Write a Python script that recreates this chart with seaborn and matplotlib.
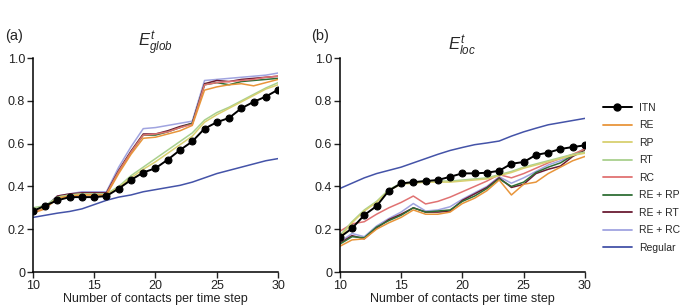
import matplotlib.pyplot as plt
import pandas as pd
import seaborn as sns
from matplotlib.lines import Line2D

contacts = list(range(10, 31))

# panel (a): global efficiency
glob_itn = [0.285, 0.31, 0.335, 0.35, 0.35, 0.35, 0.355, 0.39, 0.43, 0.465, 0.485,
            0.525, 0.57, 0.61, 0.67, 0.70, 0.72, 0.765, 0.795, 0.82, 0.852]
glob_re = [0.275, 0.295, 0.345, 0.355, 0.36, 0.36, 0.36, 0.46, 0.55, 0.625, 0.63,
           0.645, 0.66, 0.685, 0.85, 0.865, 0.875, 0.88, 0.87, 0.885, 0.90]
glob_rp = [0.29, 0.30, 0.345, 0.355, 0.36, 0.36, 0.36, 0.395, 0.44, 0.48, 0.515,
           0.555, 0.595, 0.635, 0.70, 0.735, 0.765, 0.795, 0.825, 0.855, 0.875]
glob_rt = [0.30, 0.31, 0.35, 0.36, 0.365, 0.365, 0.365, 0.40, 0.45, 0.49, 0.53,
           0.57, 0.61, 0.65, 0.71, 0.745, 0.77, 0.80, 0.83, 0.86, 0.885]
glob_rc = [0.28, 0.30, 0.35, 0.36, 0.365, 0.365, 0.365, 0.47, 0.56, 0.64, 0.645,
           0.655, 0.675, 0.69, 0.875, 0.885, 0.89, 0.895, 0.90, 0.91, 0.915]
glob_re_rp = [0.28, 0.30, 0.35, 0.36, 0.365, 0.365, 0.365, 0.47, 0.56, 0.64, 0.64,
              0.655, 0.675, 0.695, 0.875, 0.885, 0.875, 0.89, 0.895, 0.90, 0.905]
glob_re_rt = [0.28, 0.30, 0.355, 0.365, 0.37, 0.37, 0.37, 0.475, 0.565, 0.645, 0.645,
              0.66, 0.68, 0.695, 0.88, 0.895, 0.89, 0.90, 0.905, 0.91, 0.915]
glob_re_rc = [0.285, 0.305, 0.355, 0.365, 0.375, 0.375, 0.375, 0.49, 0.585, 0.67, 0.675,
              0.685, 0.695, 0.705, 0.895, 0.90, 0.905, 0.91, 0.915, 0.92, 0.93]
glob_regular = [0.255, 0.265, 0.275, 0.283, 0.295, 0.315, 0.335, 0.35, 0.36, 0.375, 0.385,
                0.395, 0.405, 0.42, 0.44, 0.46, 0.475, 0.49, 0.505, 0.52, 0.53]

# panel (b): local efficiency
loc_itn = [0.162, 0.204, 0.266, 0.308, 0.38, 0.414, 0.42, 0.425, 0.43, 0.445, 0.461,
           0.461, 0.464, 0.473, 0.506, 0.514, 0.547, 0.558, 0.575, 0.584, 0.592]
loc_re = [0.12, 0.15, 0.155, 0.20, 0.23, 0.255, 0.29, 0.27, 0.27, 0.28, 0.32,
          0.345, 0.38, 0.43, 0.36, 0.41, 0.42, 0.46, 0.49, 0.52, 0.54]
loc_rp = [0.16, 0.23, 0.285, 0.325, 0.38, 0.41, 0.415, 0.42, 0.42, 0.42, 0.425,
          0.43, 0.435, 0.45, 0.465, 0.485, 0.50, 0.515, 0.53, 0.545, 0.555]
loc_rt = [0.17, 0.235, 0.29, 0.33, 0.385, 0.415, 0.42, 0.425, 0.425, 0.425, 0.43,
          0.435, 0.44, 0.455, 0.47, 0.49, 0.505, 0.52, 0.535, 0.55, 0.56]
loc_rc = [0.19, 0.225, 0.235, 0.27, 0.30, 0.325, 0.355, 0.318, 0.33, 0.35, 0.375,
          0.40, 0.425, 0.455, 0.44, 0.46, 0.485, 0.51, 0.53, 0.55, 0.575]
loc_re_rp = [0.13, 0.165, 0.16, 0.21, 0.24, 0.265, 0.30, 0.28, 0.285, 0.29, 0.33,
             0.355, 0.39, 0.435, 0.40, 0.42, 0.465, 0.49, 0.51, 0.545, 0.575]
loc_re_rt = [0.135, 0.17, 0.155, 0.205, 0.245, 0.27, 0.30, 0.28, 0.28, 0.285, 0.335,
             0.365, 0.395, 0.44, 0.395, 0.41, 0.46, 0.48, 0.495, 0.54, 0.57]
loc_re_rc = [0.14, 0.18, 0.165, 0.215, 0.25, 0.28, 0.32, 0.285, 0.29, 0.305, 0.34,
             0.37, 0.40, 0.445, 0.415, 0.44, 0.47, 0.50, 0.52, 0.545, 0.578]
loc_regular = [0.39, 0.415, 0.44, 0.46, 0.475, 0.49, 0.51, 0.53, 0.55, 0.568, 0.582,
               0.595, 0.603, 0.612, 0.635, 0.655, 0.672, 0.688, 0.698, 0.708, 0.718]

labels = ["ITN", "RE", "RP", "RT", "RC", "RE + RP", "RE + RT", "RE + RC", "Regular"]
colors = ["#000000", "#E8953A", "#D8D070", "#A9D08E", "#E07272",
          "#2F6E35", "#6A1B33", "#A0A4E0", "#4453A8"]

glob_series = [glob_itn, glob_re, glob_rp, glob_rt, glob_rc,
               glob_re_rp, glob_re_rt, glob_re_rc, glob_regular]
loc_series = [loc_itn, loc_re, loc_rp, loc_rt, loc_rc,
              loc_re_rp, loc_re_rt, loc_re_rc, loc_regular]


def draw_panel(ax, series, title, tag):
    # draw in reverse so ITN ends up on top
    for name, vals, col in reversed(list(zip(labels, series, colors))):
        df = pd.DataFrame({"contacts": contacts, "eff": vals})
        if name == "ITN":
            sns.lineplot(data=df, x="contacts", y="eff", ax=ax, color=col, lw=1.4,
                         marker="o", markersize=5, markeredgecolor=col, zorder=5)
        else:
            sns.lineplot(data=df, x="contacts", y="eff", ax=ax, color=col, lw=1.1)
    ax.set_xlim(10, 30)
    ax.set_ylim(0, 1)
    ax.set_xticks([10, 15, 20, 25, 30])
    ax.set_yticks([0, 0.2, 0.4, 0.6, 0.8, 1.0])
    ax.set_yticklabels(["0", "0.2", "0.4", "0.6", "0.8", "1.0"])
    ax.set_xlabel("Number of contacts per time step", fontsize=9, color="#222222",
                  labelpad=1)
    ax.set_ylabel("")
    ax.tick_params(direction="out", length=4, width=1, labelsize=9,
                   colors="#222222", pad=1.5)
    for s in ["left", "bottom"]:
        ax.spines[s].set_linewidth(1.1)
        ax.spines[s].set_color("black")
    sns.despine(ax=ax)
    ax.set_title(title, fontsize=12, pad=5)
    ax.text(-0.115, 1.07, tag, transform=ax.transAxes, fontsize=10.5,
            ha="left", va="bottom")


sns.set_style("ticks")
plt.rcParams["font.family"] = ["Liberation Sans", "DejaVu Sans"]
plt.rcParams["mathtext.fontset"] = "custom"
plt.rcParams["mathtext.it"] = "Liberation Sans:italic"
plt.rcParams["mathtext.rm"] = "Liberation Sans"

fig = plt.figure(figsize=(6.85, 3.07), dpi=100)
ax1 = fig.add_axes([0.048, 0.114, 0.358, 0.697])
ax2 = fig.add_axes([0.496, 0.114, 0.358, 0.697])

draw_panel(ax1, glob_series, r"$E^{t}_{glob}$", "(a)")
draw_panel(ax2, loc_series, r"$E^{t}_{loc}$", "(b)")

handles = []
for name, col in zip(labels, colors):
    if name == "ITN":
        handles.append(Line2D([0], [0], color=col, lw=1.4, marker="o", markersize=5))
    else:
        handles.append(Line2D([0], [0], color=col, lw=1.3))
fig.legend(handles, labels, loc="upper left", bbox_to_anchor=(0.88, 0.665),
           frameon=False, fontsize=7.5, handlelength=2.8, labelspacing=0.72,
           handletextpad=0.7, borderaxespad=0, borderpad=0)

fig.savefig("out.png", dpi=100)
